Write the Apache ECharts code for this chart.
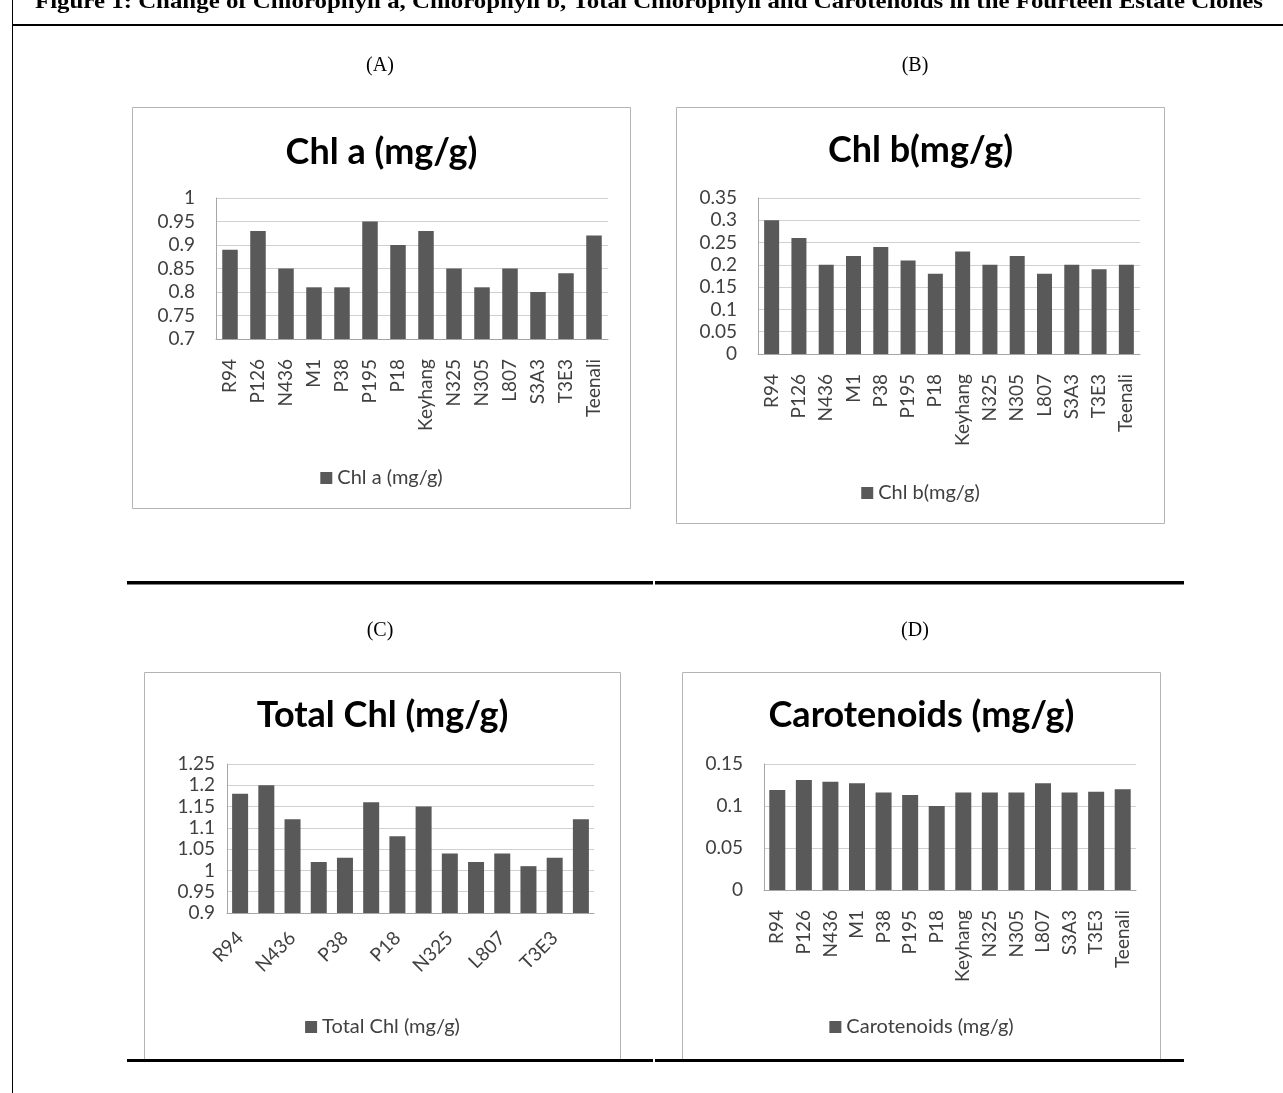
<!DOCTYPE html>
<html><head><meta charset="utf-8">
<script src="https://cdn.jsdelivr.net/npm/echarts@6/dist/echarts.min.js"></script>
<style>
html,body{margin:0;padding:0;background:#fff;}
.c{position:absolute;}
#bg{position:absolute;left:0;top:0;width:1283px;height:1093px;pointer-events:none;}
</style></head><body>
<div id="ca" class="c" style="left:132px;top:107px;width:499px;height:402px"></div>
<div id="cb" class="c" style="left:676px;top:107px;width:489px;height:417px"></div>
<div id="cc" class="c" style="left:144px;top:672px;width:477px;height:388px"></div>
<div id="cd" class="c" style="left:682px;top:672px;width:479px;height:388px"></div>
<div id="bg"></div>
<script>
// ---- data ----
const categories = ['R94','P126','N436','M1','P38','P195','P18','Keyhang','N325','N305','L807','S3A3','T3E3','Teenali'];
const chlA = [0.89,0.93,0.85,0.81,0.81,0.95,0.90,0.93,0.85,0.81,0.85,0.80,0.84,0.92];
const chlB = [0.30,0.26,0.20,0.22,0.24,0.21,0.18,0.23,0.20,0.22,0.18,0.20,0.19,0.20];
const totalChl = [1.18,1.20,1.12,1.02,1.03,1.16,1.08,1.15,1.04,1.02,1.04,1.01,1.03,1.12];
const carotenoids = [0.119,0.131,0.129,0.127,0.116,0.113,0.100,0.116,0.116,0.116,0.127,0.116,0.117,0.120];
const yRangeA = [0.7, 1.0, 0.05];
const yRangeB = [0, 0.35, 0.05];
const yRangeC = [0.9, 1.25, 0.05];
const yRangeD = [0, 0.15, 0.05];
const figureTitle = 'Figure 1: Change of Chlorophyll a, Chlorophyll b, Total Chlorophyll and Carotenoids in the Fourteen Estate Clones';
const panelLabels = ['(A)','(B)','(C)','(D)'];

const FONT = 'Lato';
const LABEL_COLOR = '#404040';
const LABEL_SIZE = 19;

function makeChart(id, cfg) {
  const el = document.getElementById(id);
  const w = el.clientWidth, h = el.clientHeight;
  const chart = echarts.init(el, null, {renderer:'canvas'});
  chart.setOption({
    animation: false,
    graphic: [{type:'rect', z:-1, shape:{x:0.5, y:0.5, width:w-1, height:h-1},
      style:{fill:'rgba(0,0,0,0)', stroke:'#b4b4b4', lineWidth:1}}],
    title: {text: cfg.title, left:'center', top: cfg.titleTop, padding:0,
      textStyle:{fontFamily:FONT, fontWeight:'bold', fontSize:36, color:'#000'}},
    grid: cfg.grid,
    legend: {data:[cfg.name], left:'center', top: cfg.legendTop, icon:'rect', itemWidth:12, itemHeight:12, itemGap:5, padding:0,
      textStyle:{fontFamily:FONT, fontSize:20, color:LABEL_COLOR}},
    xAxis: {type:'category', data: categories,
      axisLine:{show:true, lineStyle:{color:'#a6a6a6', width:1}},
      axisTick:{show:false},
      axisLabel:{rotate: cfg.rotate, interval: cfg.labelInterval, margin: cfg.xMargin,
        fontFamily:FONT, fontSize:LABEL_SIZE, color:LABEL_COLOR}},
    yAxis: {type:'value', min: cfg.y[0], max: cfg.y[1], interval: cfg.y[2],
      axisLine:{show:true, lineStyle:{color:'#a6a6a6', width:1}},
      axisTick:{show:false},
      splitLine:{show:true, lineStyle:{color:'#d0d0d0', width:1}},
      axisLabel:{margin: cfg.yMargin, fontFamily:FONT, fontSize:LABEL_SIZE, color:LABEL_COLOR}},
    series: [{type:'bar', name: cfg.name, data: cfg.data, barWidth: cfg.barWidth,
      itemStyle:{color:'#595959'}}]
  });
}

makeChart('ca', {title:'Chl a (mg/g)', name:'Chl a (mg/g)', data: chlA, y: yRangeA,
  grid:{left:84, top:91, width:392, height:141}, titleTop:27, legendTop:361,
  rotate:90, labelInterval:0, xMargin:20, yMargin:21, barWidth:15.5});
makeChart('cb', {title:'Chl b(mg/g)', name:'Chl b(mg/g)', data: chlB, y: yRangeB,
  grid:{left:82, top:91, width:382, height:156}, titleTop:25, legendTop:376,
  rotate:90, labelInterval:0, xMargin:20, yMargin:21, barWidth:15});
makeChart('cc', {title:'Total Chl (mg/g)', name:'Total Chl (mg/g)', data: totalChl, y: yRangeC,
  grid:{left:83, top:92, width:367, height:149}, titleTop:25, legendTop:345,
  rotate:45, labelInterval:1, xMargin:22, yMargin:12, barWidth:16});
makeChart('cd', {title:'Carotenoids (mg/g)', name:'Carotenoids (mg/g)', data: carotenoids, y: yRangeD,
  grid:{left:82, top:92, width:372, height:126}, titleTop:25, legendTop:345,
  rotate:90, labelInterval:0, xMargin:20, yMargin:21, barWidth:16});

// ---- background / decorations ----
const titleFont = 'bold 21px "Liberation Serif"';
const cv = document.createElement('canvas').getContext('2d');
cv.font = titleFont;
const tw = cv.measureText(figureTitle).width;
const titleScale = 1228 / tw;

const bg = echarts.init(document.getElementById('bg'));
const black = {fill:'#000'};
const panelFont = '20px "Liberation Serif"';
bg.setOption({
  animation:false,
  graphic: [
    {type:'text', x:35, y:2.5, scaleX:titleScale, style:{text:figureTitle, x:0, y:0, font:titleFont, fill:'#000', textVerticalAlign:'middle'}},
    {type:'rect', shape:{x:12, y:24, width:1271, height:2}, style:black},
    {type:'rect', shape:{x:12, y:0, width:1, height:1093}, style:black},
    {type:'rect', shape:{x:127, y:581, width:526, height:3.5}, style:black},
    {type:'rect', shape:{x:655, y:581, width:529, height:3.5}, style:black},
    {type:'rect', shape:{x:127, y:1059, width:526, height:3}, style:black},
    {type:'rect', shape:{x:655, y:1059, width:529, height:3}, style:black},
    {type:'text', x:380, y:66, style:{text:panelLabels[0], font:panelFont, fill:'#000', textAlign:'center', textVerticalAlign:'middle'}},
    {type:'text', x:915, y:66, style:{text:panelLabels[1], font:panelFont, fill:'#000', textAlign:'center', textVerticalAlign:'middle'}},
    {type:'text', x:380, y:631, style:{text:panelLabels[2], font:panelFont, fill:'#000', textAlign:'center', textVerticalAlign:'middle'}},
    {type:'text', x:915, y:631, style:{text:panelLabels[3], font:panelFont, fill:'#000', textAlign:'center', textVerticalAlign:'middle'}}
  ]
});
</script>
</body></html>
